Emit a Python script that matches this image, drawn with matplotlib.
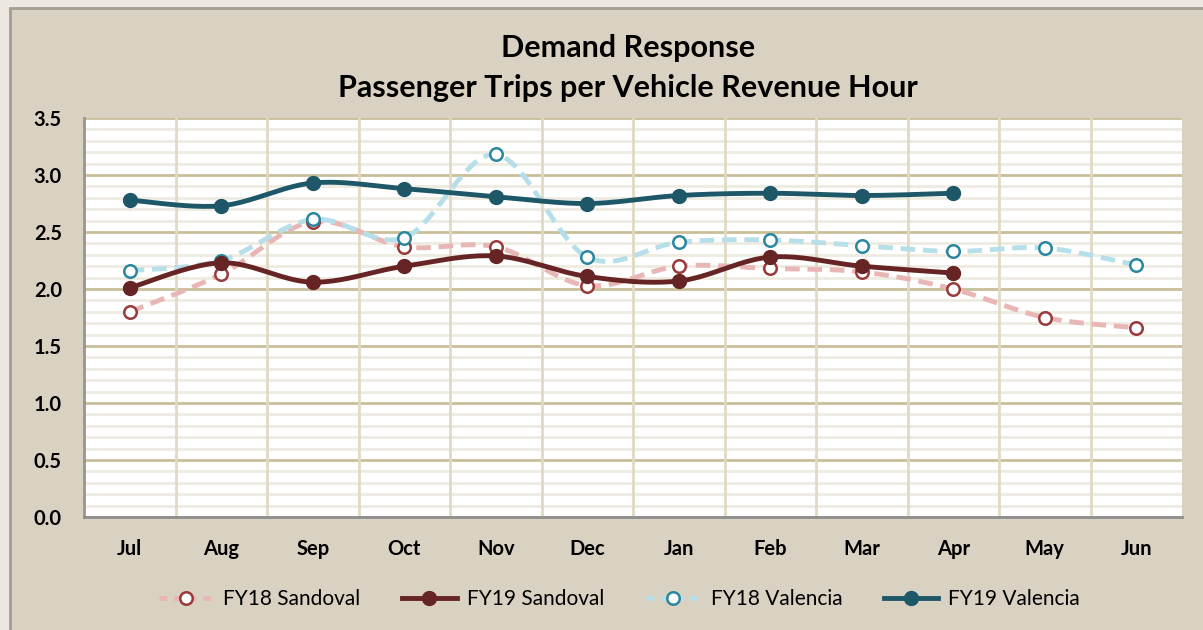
import numpy as np
import matplotlib
matplotlib.use("Agg")
import matplotlib.pyplot as plt
from matplotlib.patches import Rectangle
from matplotlib.ticker import MultipleLocator

# data
months = ["Jul", "Aug", "Sep", "Oct", "Nov", "Dec", "Jan", "Feb", "Mar", "Apr", "May", "Jun"]
fy18_sandoval = [1.80, 2.13, 2.59, 2.37, 2.37, 2.03, 2.20, 2.18, 2.15, 2.00, 1.75, 1.66]
fy19_sandoval = [2.01, 2.23, 2.06, 2.20, 2.29, 2.11, 2.07, 2.28, 2.20, 2.14]
fy18_valencia = [2.16, 2.25, 2.61, 2.45, 3.18, 2.28, 2.41, 2.43, 2.38, 2.33, 2.36, 2.21]
fy19_valencia = [2.78, 2.73, 2.93, 2.88, 2.81, 2.75, 2.82, 2.84, 2.82, 2.84]

BG = "#d9d1c1"


def smooth(y, n=24):
    # excel style smoothed line (bezier through the points)
    x = np.arange(len(y), dtype=float)
    y = np.asarray(y, dtype=float)
    xs, ys = [], []
    for i in range(len(y) - 1):
        i0 = max(i - 1, 0)
        i3 = min(i + 2, len(y) - 1)
        p0 = np.array([x[i0], y[i0]])
        p1 = np.array([x[i], y[i]])
        p2 = np.array([x[i + 1], y[i + 1]])
        p3 = np.array([x[i3], y[i3]])
        c1 = p1 + (p2 - p0) / 6
        c2 = p2 - (p3 - p1) / 6
        t = np.linspace(0, 1, n)[:, None]
        b = (1 - t) ** 3 * p1 + 3 * (1 - t) ** 2 * t * c1 + 3 * (1 - t) * t ** 2 * c2 + t ** 3 * p2
        xs.extend(b[:, 0])
        ys.extend(b[:, 1])
    return np.array(xs), np.array(ys)


fig = plt.figure(figsize=(12.03, 6.30), dpi=100, facecolor="#ece8e1")
fig.patches.append(Rectangle((10 / 1203, -0.01), 1.02, 1 - 8 / 630 + 0.01, transform=fig.transFigure,
                             facecolor=BG, edgecolor="#a39d91", linewidth=2, zorder=-10))

ax = fig.add_axes([84 / 1203, 1 - 517 / 630, 1098 / 1203, 399 / 630])
ax.set_facecolor("white")

ax.set_xlim(-0.5, 11.5)
ax.set_ylim(0, 3.5)
ax.set_xticks(range(12))
ax.set_xticklabels(months)
ax.set_yticks(np.arange(0, 3.51, 0.5))
ax.set_yticklabels([f"{v:.1f}" for v in np.arange(0, 3.51, 0.5)])
ax.yaxis.set_minor_locator(MultipleLocator(0.1))
ax.tick_params(which="both", length=0)
ax.tick_params(axis="x", pad=16)
ax.tick_params(axis="y", pad=16)
for lab in ax.get_xticklabels() + ax.get_yticklabels():
    lab.set_fontfamily("Lato")
    lab.set_fontweight("bold")
    lab.set_fontsize(14.5)

ax.set_axisbelow(True)
ax.grid(axis="y", which="minor", color="#eeebe0", linewidth=2)
ax.grid(axis="y", which="major", color="#c9bf9b", linewidth=2)
ax.grid(axis="x", visible=False)
for xb in np.arange(0.5, 11, 1):
    ax.axvline(xb, color="#e0d9c4", lw=2, zorder=1)
for s in ["top", "right"]:
    ax.spines[s].set_visible(False)
ax.spines["left"].set_color("#9a958c")
ax.spines["left"].set_linewidth(2)
ax.spines["bottom"].set_color("#8e8e8e")
ax.spines["bottom"].set_linewidth(2)

# FY18 Sandoval
sx, sy = smooth(fy18_sandoval)
ax.plot(sx, sy, color="#e8b6b4", lw=3.5, dashes=(3, 1.6), zorder=3)
ax.plot(range(len(fy18_sandoval)), fy18_sandoval, ls="none", marker="o", ms=9,
        mfc="white", mec="#98393a", mew=1.8, zorder=5)
# FY19 Sandoval
sx, sy = smooth(fy19_sandoval)
ax.plot(sx, sy, color="#662424", lw=3.5, zorder=4)
ax.plot(range(len(fy19_sandoval)), fy19_sandoval, ls="none", marker="o", ms=10,
        mfc="#662424", mec="#662424", zorder=6)
# FY18 Valencia
sx, sy = smooth(fy18_valencia)
ax.plot(sx, sy, color="#b6dfe9", lw=3.5, dashes=(3, 1.6), zorder=3)
ax.plot(range(len(fy18_valencia)), fy18_valencia, ls="none", marker="o", ms=9,
        mfc="white", mec="#2b87a0", mew=1.8, zorder=5)
# FY19 Valencia
sx, sy = smooth(fy19_valencia)
ax.plot(sx, sy, color="#1e5868", lw=3.5, zorder=4)
ax.plot(range(len(fy19_valencia)), fy19_valencia, ls="none", marker="o", ms=10,
        mfc="#1e5868", mec="#1e5868", zorder=6)

fig.text(0.522, 1 - 48 / 630, "Demand Response", ha="center", va="center",
         fontsize=22, fontweight="bold", family="Lato")
fig.text(0.522, 1 - 88 / 630, "Passenger Trips per Vehicle Revenue Hour", ha="center", va="center",
         fontsize=22, fontweight="bold", family="Lato")

h = [
    plt.Line2D([], [], color="#e8b6b4", lw=3.5, dashes=(1.6, 1.4), marker="o", ms=9,
               mfc="white", mec="#98393a", mew=1.8),
    plt.Line2D([], [], color="#662424", lw=3.5, marker="o", ms=10, mfc="#662424"),
    plt.Line2D([], [], color="#b6dfe9", lw=3.5, dashes=(1.6, 1.4), marker="o", ms=9,
               mfc="white", mec="#2b87a0", mew=1.8),
    plt.Line2D([], [], color="#1e5868", lw=3.5, marker="o", ms=10, mfc="#1e5868"),
]
fig.legend(h, ["FY18 Sandoval", "FY19 Sandoval", "FY18 Valencia", "FY19 Valencia"],
           loc="center", bbox_to_anchor=(0.515, 1 - 599 / 630), ncol=4, frameon=False,
           handlelength=2.6, columnspacing=2.0, handletextpad=0.5,
           prop={"family": "Lato", "size": 15})

fig.savefig("out.png", dpi=100, facecolor=fig.get_facecolor())
